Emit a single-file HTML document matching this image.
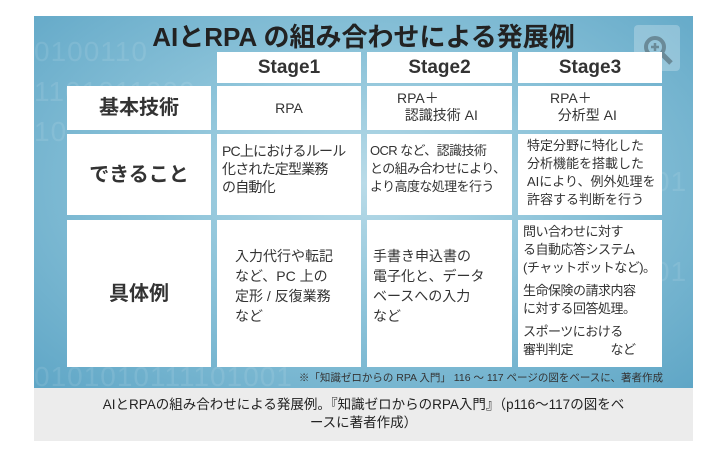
<!DOCTYPE html>
<html><head><meta charset="utf-8"><style>
body{margin:0;width:725px;height:457px;background:#fff;position:relative;overflow:hidden;font-family:"Liberation Sans","Noto Sans CJK JP",sans-serif;color:#333}
#img{position:absolute;left:34px;top:16px;width:659px;height:372px;background:radial-gradient(ellipse at 50% 45%,#b9dbe8 0%,#8cc3d9 45%,#5fa6c6 100%);overflow:hidden}
.bin{position:absolute;font-size:28px;color:rgba(255,255,255,0.1);letter-spacing:1px;white-space:nowrap}
.c{position:absolute;background:#fff;box-sizing:border-box;font-size:13px;line-height:18px;color:#333;white-space:nowrap;overflow:hidden}
.h{display:flex;align-items:center;justify-content:center;font-weight:bold}
#cap{position:absolute;left:34px;top:388px;width:659px;height:53px;background:#ececec;font-size:13.5px;text-align:center;line-height:18px;padding-top:8px;box-sizing:border-box;color:#222}
</style></head><body>
<div id="img">
<div class="bin" style="left:0;top:20px">0100110</div>
<div class="bin" style="left:0;top:60px">1101011000</div>
<div class="bin" style="left:0;top:100px">10</div>
<div class="bin" style="left:0;top:345px">0101010111101001</div>
<div class="bin" style="left:620px;top:150px">01</div>
<div class="bin" style="left:620px;top:240px">01</div>
<div style="position:absolute;left:0;right:0;top:1px;text-align:center;font-size:26px;font-weight:bold;color:#222">AIとRPA の組み合わせによる発展例</div>
<div style="position:absolute;left:600px;top:9px;width:46px;height:46px;background:rgba(255,255,255,0.25);border-radius:4px"></div>
<svg style="position:absolute;left:606px;top:16px" width="36" height="36"><circle cx="15" cy="15" r="9" fill="none" stroke="#6a8a98" stroke-width="4"/><line x1="22" y1="22" x2="31" y2="31" stroke="#6a8a98" stroke-width="5"/><line x1="11" y1="15" x2="19" y2="15" stroke="#6a8a98" stroke-width="2.5"/><line x1="15" y1="11" x2="15" y2="19" stroke="#6a8a98" stroke-width="2.5"/></svg>
<div class="c h" style="left:183px;top:36px;width:144px;height:31px;font-size:19px">Stage1</div>
<div class="c h" style="left:333px;top:36px;width:145px;height:31px;font-size:19px">Stage2</div>
<div class="c h" style="left:484px;top:36px;width:144px;height:31px;font-size:19px">Stage3</div>
<div class="c h" style="left:33px;top:70px;width:144px;height:44px;font-size:20px">基本技術</div>
<div class="c h" style="left:183px;top:70px;width:144px;height:44px;font-weight:normal;font-size:14px">RPA</div>
<div class="c" style="left:333px;top:70px;width:145px;height:44px;padding:4px 0 0 30px;line-height:17px;font-size:14px">RPA＋<br>&nbsp;&nbsp;認識技術 AI</div>
<div class="c" style="left:484px;top:70px;width:144px;height:44px;padding:4px 0 0 32px;line-height:17px;font-size:14px">RPA＋<br>&nbsp;&nbsp;分析型 AI</div>
<div class="c h" style="left:33px;top:118px;width:144px;height:81px;font-size:20px">できること</div>
<div class="c" style="left:183px;top:118px;width:144px;height:81px;padding:8px 0 0 5px;font-size:14px;letter-spacing:-0.8px">PC上におけるルール<br>化された定型業務<br>の自動化</div>
<div class="c" style="left:333px;top:118px;width:145px;height:81px;padding:8px 0 0 3px;font-size:13px;letter-spacing:-0.6px">OCR など、認識技術<br>との組み合わせにより、<br>より高度な処理を行う</div>
<div class="c" style="left:484px;top:118px;width:144px;height:81px;padding:3px 0 0 9px;font-size:13px">特定分野に特化した<br>分析機能を搭載した<br>AIにより、例外処理を<br>許容する判断を行う</div>
<div class="c h" style="left:33px;top:204px;width:144px;height:147px;font-size:20px">具体例</div>
<div class="c" style="left:183px;top:204px;width:144px;height:147px;padding:26px 0 0 18px;line-height:20px;font-size:14px">入力代行や転記<br>など、PC 上の<br>定形 / 反復業務<br>など</div>
<div class="c" style="left:333px;top:204px;width:145px;height:147px;padding:26px 0 0 6px;line-height:20px;font-size:14px">手書き申込書の<br>電子化と、データ<br>ベースへの入力<br>など</div>
<div class="c" style="left:484px;top:204px;width:144px;height:147px;padding:3px 0 0 5px;line-height:18px;font-size:13px;letter-spacing:-0.5px">問い合わせに対す<br>る自動応答システム<br>(チャットボットなど)。<div style="height:5px"></div>生命保険の請求内容<br>に対する回答処理。<div style="height:5px"></div>スポーツにおける<br>審判判定　　　など</div>
<div style="position:absolute;right:30px;top:354px;font-size:10.5px;color:#333;white-space:nowrap">※「知識ゼロからの RPA 入門」 116 ～ 117 ページの図をベースに、著者作成</div>
</div>
<div id="cap">AIとRPAの組み合わせによる発展例。『知識ゼロからのRPA入門』（p116～117の図をベ<br>ースに著者作成）</div>
</body></html>
